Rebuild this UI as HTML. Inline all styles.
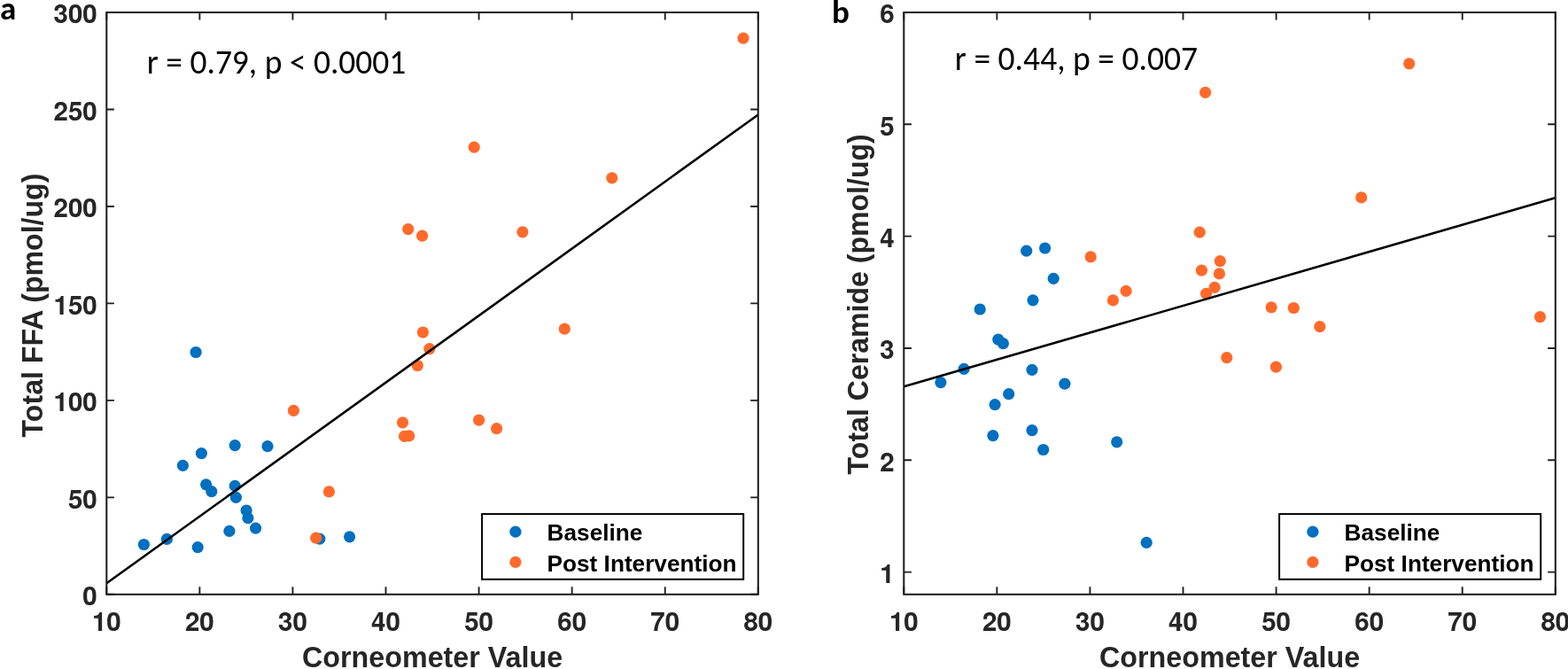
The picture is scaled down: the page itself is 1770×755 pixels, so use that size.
<!DOCTYPE html>
<html><head><meta charset="utf-8"><title>Figure</title>
<style>
html,body{margin:0;padding:0;background:#fff;}
body{width:1770px;height:755px;overflow:hidden;}
svg{display:block;}
.tl{font-family:"TeX Gyre Heros","Liberation Sans",Arial,sans-serif;font-weight:bold;font-size:30px;}
.al{font-family:"Liberation Sans",Arial,sans-serif;font-weight:bold;font-size:32.5px;}
.an{font-family:"Carlito","Liberation Sans",sans-serif;font-size:38.5px;font-size-adjust:0.4775;fill:#000;}
.lg{font-family:"Liberation Sans",Arial,sans-serif;font-weight:bold;font-size:26.2px;fill:#000;}
.pl{font-family:"Carlito","Liberation Sans",sans-serif;font-weight:bold;font-size:37px;font-size-adjust:0.4849;fill:#000;}
</style></head><body>
<svg width="1770" height="755" viewBox="0 0 1770 755">
<rect width="1770" height="755" fill="#fff"/>
<g fill="#0070C0">
<circle cx="221.1" cy="397.5" r="6.6"/>
<circle cx="206.4" cy="525.4" r="6.6"/>
<circle cx="227.4" cy="511.6" r="6.6"/>
<circle cx="265.2" cy="502.6" r="6.6"/>
<circle cx="302" cy="503.7" r="6.6"/>
<circle cx="232.6" cy="546.8" r="6.6"/>
<circle cx="238.8" cy="554.7" r="6.6"/>
<circle cx="265.2" cy="548.4" r="6.6"/>
<circle cx="266.4" cy="561.4" r="6.6"/>
<circle cx="278.1" cy="576" r="6.6"/>
<circle cx="279.9" cy="584.7" r="6.6"/>
<circle cx="288.6" cy="596.1" r="6.6"/>
<circle cx="258.9" cy="599.4" r="6.6"/>
<circle cx="188.4" cy="608.4" r="6.6"/>
<circle cx="162.4" cy="614.5" r="6.6"/>
<circle cx="223.2" cy="617.7" r="6.6"/>
<circle cx="360.8" cy="608.1" r="6.6"/>
<circle cx="394.6" cy="605.8" r="6.6"/>
</g><g fill="#FF6A2B">
<circle cx="839" cy="43.05" r="6.6"/>
<circle cx="535.2" cy="166.2" r="6.6"/>
<circle cx="690.8" cy="200.8" r="6.6"/>
<circle cx="460.7" cy="258.6" r="6.6"/>
<circle cx="476.6" cy="266.2" r="6.6"/>
<circle cx="589.9" cy="261.8" r="6.6"/>
<circle cx="477.4" cy="375" r="6.6"/>
<circle cx="484.8" cy="393.6" r="6.6"/>
<circle cx="471.3" cy="412.5" r="6.6"/>
<circle cx="331.4" cy="463.4" r="6.6"/>
<circle cx="454.5" cy="476.8" r="6.6"/>
<circle cx="540.6" cy="474.1" r="6.6"/>
<circle cx="560.6" cy="483.7" r="6.6"/>
<circle cx="456.5" cy="492.4" r="6.6"/>
<circle cx="461.7" cy="491.9" r="6.6"/>
<circle cx="371.4" cy="554.9" r="6.6"/>
<circle cx="356.7" cy="607.2" r="6.6"/>
<circle cx="637.3" cy="371.2" r="6.6"/>
</g>
<line x1="120.3" y1="658.3" x2="855.8" y2="129.5" stroke="#000" stroke-width="2.6"/>
<path d="M120.3 670.8V662.2M120.3 14V22.6M225.37 670.8V662.2M225.37 14V22.6M330.44 670.8V662.2M330.44 14V22.6M435.51 670.8V662.2M435.51 14V22.6M540.59 670.8V662.2M540.59 14V22.6M645.66 670.8V662.2M645.66 14V22.6M750.73 670.8V662.2M750.73 14V22.6M855.8 670.8V662.2M855.8 14V22.6M120.3 670.8H128.9M855.8 670.8H847.2M120.3 561.33H128.9M855.8 561.33H847.2M120.3 451.87H128.9M855.8 451.87H847.2M120.3 342.4H128.9M855.8 342.4H847.2M120.3 232.93H128.9M855.8 232.93H847.2M120.3 123.47H128.9M855.8 123.47H847.2M120.3 14H128.9M855.8 14H847.2" stroke="#1f1f1f" stroke-width="1.9" fill="none"/>
<rect x="120.3" y="14" width="735.5" height="656.8" stroke="#1f1f1f" stroke-width="2.05" fill="none"/>
<g class="tl" fill="#262626">
<text transform="translate(120.3 712) scale(0.985 1)" text-anchor="middle">10</text>
<text transform="translate(225.37 712) scale(0.985 1)" text-anchor="middle">20</text>
<text transform="translate(330.44 712) scale(0.985 1)" text-anchor="middle">30</text>
<text transform="translate(435.51 712) scale(0.985 1)" text-anchor="middle">40</text>
<text transform="translate(540.59 712) scale(0.985 1)" text-anchor="middle">50</text>
<text transform="translate(645.66 712) scale(0.985 1)" text-anchor="middle">60</text>
<text transform="translate(750.73 712) scale(0.985 1)" text-anchor="middle">70</text>
<text transform="translate(855.8 712) scale(0.985 1)" text-anchor="middle">80</text>
<text transform="translate(109.8 683.2) scale(0.985 1)" text-anchor="end">0</text>
<text transform="translate(109.8 573.73) scale(0.985 1)" text-anchor="end">50</text>
<text transform="translate(109.8 464.27) scale(0.985 1)" text-anchor="end">100</text>
<text transform="translate(109.8 354.8) scale(0.985 1)" text-anchor="end">150</text>
<text transform="translate(109.8 245.33) scale(0.985 1)" text-anchor="end">200</text>
<text transform="translate(109.8 135.87) scale(0.985 1)" text-anchor="end">250</text>
<text transform="translate(109.8 26.4) scale(0.985 1)" text-anchor="end">300</text>
</g>
<text class="al" transform="translate(488.05 752.6) scale(0.993 1)" text-anchor="middle" fill="#262626">Corneometer Value</text>
<text class="al" transform="translate(47.5 493.4) rotate(-90)" x="0" y="0" textLength="297.8" lengthAdjust="spacingAndGlyphs" fill="#262626">Total FFA (pmol/ug)</text>
<text class="an" x="165.8" y="82.8" textLength="292.5" lengthAdjust="spacingAndGlyphs">r = 0.79, p &lt; 0.0001</text>
<rect x="544.1" y="580.1" width="295.1" height="73.7" fill="#fff" stroke="#000" stroke-width="2"/>
<circle cx="581.9" cy="600.2" r="6.6" fill="#0070C0"/>
<circle cx="581.9" cy="634.4" r="6.6" fill="#FF6A2B"/>
<text class="lg" x="617.6" y="610.2">Baseline</text>
<text class="lg" x="617.6" y="645.0">Post Intervention</text>
<g fill="#0070C0">
<circle cx="1158.7" cy="283.2" r="6.6"/>
<circle cx="1179.6" cy="280" r="6.6"/>
<circle cx="1189.2" cy="314.3" r="6.6"/>
<circle cx="1166" cy="338.8" r="6.6"/>
<circle cx="1106.2" cy="349" r="6.6"/>
<circle cx="1126.8" cy="383.1" r="6.6"/>
<circle cx="1132.4" cy="387.7" r="6.6"/>
<circle cx="1088.1" cy="416.3" r="6.6"/>
<circle cx="1061.9" cy="431.6" r="6.6"/>
<circle cx="1165" cy="417.3" r="6.6"/>
<circle cx="1201.9" cy="433.2" r="6.6"/>
<circle cx="1138.7" cy="444.7" r="6.6"/>
<circle cx="1123.1" cy="456.6" r="6.6"/>
<circle cx="1120.9" cy="491.6" r="6.6"/>
<circle cx="1165" cy="485.6" r="6.6"/>
<circle cx="1177.7" cy="507.5" r="6.6"/>
<circle cx="1260.7" cy="498.8" r="6.6"/>
<circle cx="1294.2" cy="612.4" r="6.6"/>
</g><g fill="#FF6A2B">
<circle cx="1590.7" cy="71.8" r="6.6"/>
<circle cx="1360.6" cy="104.4" r="6.6"/>
<circle cx="1536.7" cy="222.9" r="6.6"/>
<circle cx="1738.5" cy="357.6" r="6.6"/>
<circle cx="1460.3" cy="347.5" r="6.6"/>
<circle cx="1489.8" cy="368.7" r="6.6"/>
<circle cx="1231.2" cy="289.9" r="6.6"/>
<circle cx="1354.2" cy="262.2" r="6.6"/>
<circle cx="1377.3" cy="294.6" r="6.6"/>
<circle cx="1356.4" cy="305.2" r="6.6"/>
<circle cx="1376.4" cy="308.9" r="6.6"/>
<circle cx="1371.1" cy="324.4" r="6.6"/>
<circle cx="1361.5" cy="331.3" r="6.6"/>
<circle cx="1271.1" cy="328.4" r="6.6"/>
<circle cx="1256.4" cy="338.9" r="6.6"/>
<circle cx="1435.1" cy="346.8" r="6.6"/>
<circle cx="1384.8" cy="403.7" r="6.6"/>
<circle cx="1440.4" cy="414.1" r="6.6"/>
</g>
<line x1="1020.3" y1="436.3" x2="1755.8" y2="223.3" stroke="#000" stroke-width="2.6"/>
<path d="M1020.3 670.8V662.2M1020.3 14V22.6M1125.37 670.8V662.2M1125.37 14V22.6M1230.44 670.8V662.2M1230.44 14V22.6M1335.51 670.8V662.2M1335.51 14V22.6M1440.59 670.8V662.2M1440.59 14V22.6M1545.66 670.8V662.2M1545.66 14V22.6M1650.73 670.8V662.2M1650.73 14V22.6M1755.8 670.8V662.2M1755.8 14V22.6M1020.3 645.6H1028.9M1755.8 645.6H1747.2M1020.3 519.28H1028.9M1755.8 519.28H1747.2M1020.3 392.96H1028.9M1755.8 392.96H1747.2M1020.3 266.64H1028.9M1755.8 266.64H1747.2M1020.3 140.32H1028.9M1755.8 140.32H1747.2M1020.3 14H1028.9M1755.8 14H1747.2" stroke="#1f1f1f" stroke-width="1.9" fill="none"/>
<rect x="1020.3" y="14" width="735.5" height="656.8" stroke="#1f1f1f" stroke-width="2.05" fill="none"/>
<g class="tl" fill="#262626">
<text transform="translate(1020.3 712) scale(0.985 1)" text-anchor="middle">10</text>
<text transform="translate(1125.37 712) scale(0.985 1)" text-anchor="middle">20</text>
<text transform="translate(1230.44 712) scale(0.985 1)" text-anchor="middle">30</text>
<text transform="translate(1335.51 712) scale(0.985 1)" text-anchor="middle">40</text>
<text transform="translate(1440.59 712) scale(0.985 1)" text-anchor="middle">50</text>
<text transform="translate(1545.66 712) scale(0.985 1)" text-anchor="middle">60</text>
<text transform="translate(1650.73 712) scale(0.985 1)" text-anchor="middle">70</text>
<text transform="translate(1755.8 712) scale(0.985 1)" text-anchor="middle">80</text>
<text transform="translate(1009.8 658) scale(0.985 1)" text-anchor="end">1</text>
<text transform="translate(1009.8 531.68) scale(0.985 1)" text-anchor="end">2</text>
<text transform="translate(1009.8 405.36) scale(0.985 1)" text-anchor="end">3</text>
<text transform="translate(1009.8 279.04) scale(0.985 1)" text-anchor="end">4</text>
<text transform="translate(1009.8 152.72) scale(0.985 1)" text-anchor="end">5</text>
<text transform="translate(1009.8 26.4) scale(0.985 1)" text-anchor="end">6</text>
</g>
<text class="al" transform="translate(1388.05 752.6) scale(0.993 1)" text-anchor="middle" fill="#262626">Corneometer Value</text>
<text class="al" transform="translate(979.7 535.4) rotate(-90)" x="0" y="0" textLength="384.2" lengthAdjust="spacingAndGlyphs" fill="#262626">Total Ceramide (pmol/ug)</text>
<text class="an" x="1077.8" y="79.3" textLength="274.3" lengthAdjust="spacingAndGlyphs">r = 0.44, p = 0.007</text>
<rect x="1444.1" y="580.1" width="295.1" height="73.7" fill="#fff" stroke="#000" stroke-width="2"/>
<circle cx="1481.9" cy="600.2" r="6.6" fill="#0070C0"/>
<circle cx="1481.9" cy="634.4" r="6.6" fill="#FF6A2B"/>
<text class="lg" x="1517.6" y="610.2">Baseline</text>
<text class="lg" x="1517.6" y="645.0">Post Intervention</text>
<text class="pl" x="0" y="21.5">a</text>
<text class="pl" x="939" y="26">b</text>
</svg>
</body></html>
